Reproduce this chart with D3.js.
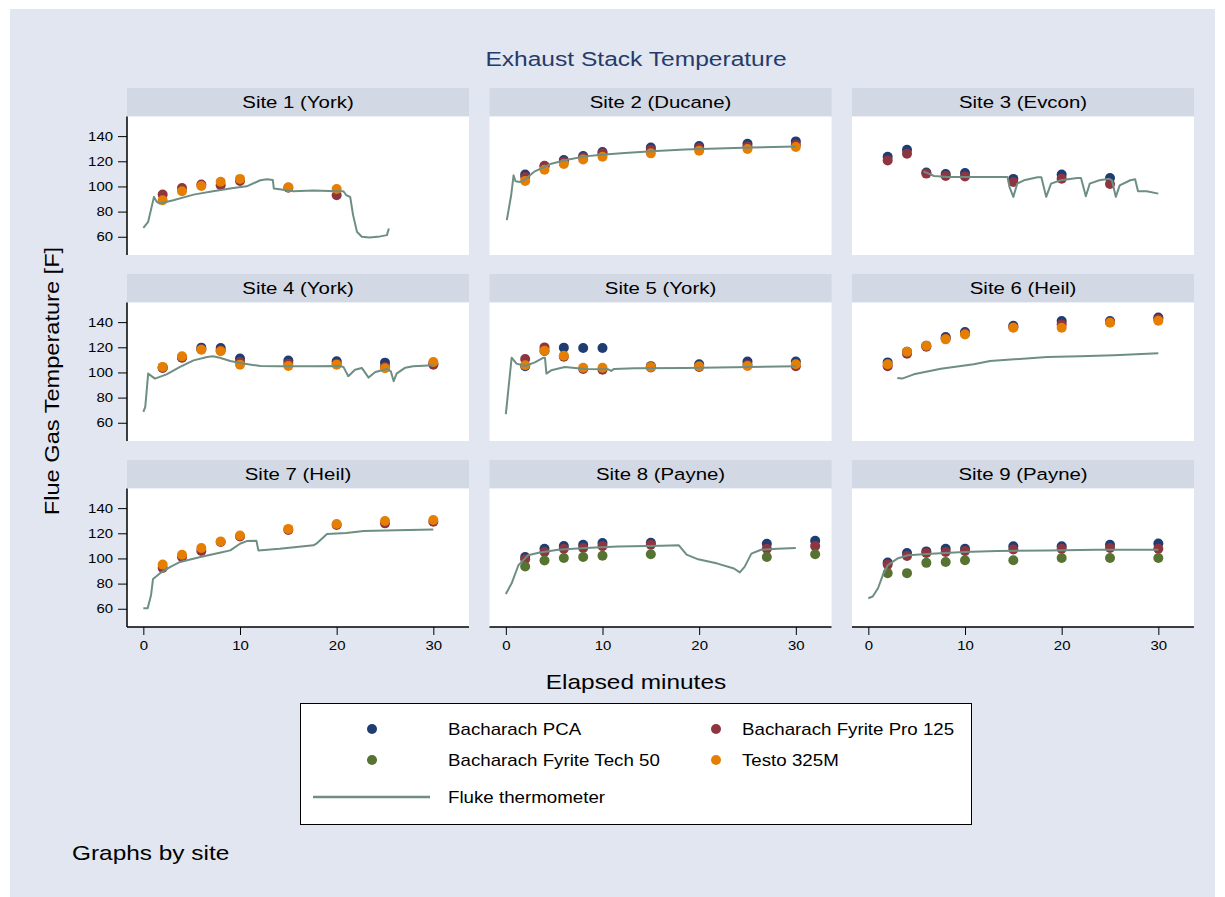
<!DOCTYPE html>
<html><head><meta charset="utf-8">
<script src="https://cdn.jsdelivr.net/npm/d3@7"></script>
<style>body{margin:0;background:#fff;} text{font-family:"Liberation Sans",Arial,sans-serif;}</style>
</head><body><svg id="c" width="1225" height="897"></svg>
<script>
const siteNames = ["Site 1 (York)","Site 2 (Ducane)","Site 3 (Evcon)","Site 4 (York)","Site 5 (York)","Site 6 (Heil)","Site 7 (Heil)","Site 8 (Payne)","Site 9 (Payne)"];
const std = [2,4,6,8,10,15,20,25,30];
const sampleMinutes = [[2,4,6,8,10,15,20], std, [2,4,6,8,10,15,20,25], std, std, std, std, [2,4,6,8,10,15,27,32], std];
const pca = [
  null,
  [109.4,116,121,124.2,127.3,131,132.1,133.9,135.8],
  [123.6,129.2,111,109.9,110.7,106,109.4,106.7],
  [104,112,119.7,119.4,111,109.4,108.8,107.8,107],
  [105,117,119.7,119.4,119.4,105,106.5,108.6,108.6],
  [108,116.5,121.3,128.1,132.1,137.1,140.8,140.8,143.7],
  null,
  [101.2,107.7,109.8,110.9,112.2,112.4,111.7,114],
  [96.7,104.3,105.6,107.7,107.7,109.6,109.6,110.9,111.9]
];
const pro125 = [
  [93.5,98.8,101.5,100.9,104.4,99,93],
  [107.5,116.5,119.7,123.1,126.3,129.2,130.5,131.8,133.1],
  [120.7,126,110.2,108.3,108,103.6,106.2,102],
  [103.6,111.7,118.5,117.5,108.3,107,107,104.4,106.2],
  [110.7,119.9,112.5,102.8,102.2,104,104.4,106,104.9],
  [104.9,114.9,120.5,127,131,136,138.2,140,142.4],
  [92.5,101.2,105.9,113,117.4,122.7,126.6,127.9,129.2],
  [99.3,105.1,107.7,108.3,109.8,110.9,107.7,109.8],
  [95.1,102,104.3,105.1,105.9,107.2,107.7,108.3,107.7]
];
const tech50 = [null,null,null,null,null,null,null,
  [93.6,98.3,100.4,101.2,102.2,103.3,101.2,103.3],
  [88.3,88.3,96.5,97.2,98.6,98.6,100.4,100.4,100.4]
];
const testo = [
  [89,96.2,100.4,103.8,106,99.3,98],
  [104.4,113.3,117.8,121.5,123.6,126.3,128.4,129.7,131.3],
  null,
  [104.4,112.8,118.1,116.8,106.2,105.1,106.2,103.3,108.3],
  [105.7,117.3,113.3,103.8,103.8,104.4,104.9,105.1,106.5],
  [106.5,116.5,121.3,126.3,130.2,135.5,135.5,139.5,141.1],
  [95.1,103,108.3,113.5,118.2,123.5,127.4,129.8,130.6],
  null, null
];
const fluke = [
  [[0,67.1],[0.5,71.9],[1.1,91.7],[1.4,87.7],[1.7,86.4],[3.1,89],[5.2,93.5],[7.2,96.2],[9.3,98.8],[10.7,100.1],[12.1,104.9],[12.8,105.7],[13.4,105.1],[13.5,98.3],[14.1,97.8],[15.5,96.2],[17.6,96.7],[20,96.2],[20.7,96.2],[21,93],[21.4,91.7],[21.7,77.2],[22.1,64],[22.6,60],[23.4,59.5],[24.5,60.3],[25.2,61.3],[25.4,66.6]],
  [[0.1,73.2],[0.55,93],[0.8,108.8],[1,104.1],[1.5,103.6],[2,105.7],[3,112],[4.7,118.1],[6.5,121.5],[8.2,123.9],[9.9,125.2],[12.3,126.5],[15.1,127.9],[18.5,129.4],[21.9,130.2],[25.4,131],[30,131.8]],
  [[5.7,112],[6.8,108.3],[8.2,107.5],[14.4,107.5],[14.6,99.6],[15,91.7],[15.4,102.2],[16.1,104.9],[17.5,107.3],[17.9,107.3],[18.4,91.7],[18.9,102.2],[19.9,104.9],[21.6,106.7],[22,106.7],[22.5,92.2],[22.9,102.2],[23.9,104.9],[24.9,106.2],[25.2,104.9],[25.6,91.7],[26,100.9],[27.1,104.9],[27.6,105.7],[27.9,96.2],[28.8,96.2],[30,94.3]],
  [[0,68.7],[0.2,72.7],[0.5,99.1],[1.2,95.1],[2.4,98.5],[3.8,104.4],[5.2,109.6],[6.6,112.3],[7.2,112.8],[7.9,111.7],[9,109.1],[10,107.5],[12.1,105.1],[14.1,104.9],[17.6,104.9],[20.3,105.1],[20.7,104.4],[21.2,97],[21.9,102.2],[22.6,103.6],[23.3,95.9],[24,100.4],[25.2,102.8],[25.6,100.9],[25.9,93],[26.2,99.1],[27.1,103.8],[27.9,104.9],[30,105.7]],
  [[0,66.9],[0.6,111.7],[1.1,107],[2,105.1],[3,108],[3.9,111.7],[4.05,111.7],[4.2,99.1],[4.7,101.7],[6.1,104.4],[8.2,102.8],[10.6,102.5],[10.9,101.2],[11.2,102.8],[13.3,103.3],[18.5,103.6],[23.6,104.1],[30,104.9]],
  [[3,95.6],[3.5,95.1],[4.7,98.5],[7.5,103],[10.9,106.5],[12.6,109.1],[15.1,110.4],[18.5,112.3],[21.9,112.8],[25.4,113.6],[30,115.2]],
  [[0,60.5],[0.45,60.5],[0.8,71],[1,83.6],[1.7,88.1],[2.8,93.3],[3.8,97.2],[5.9,101.2],[7.9,104.6],[9,106.4],[10,111.7],[10.7,113.8],[11.7,114],[11.9,106.4],[14.1,107.7],[17.6,110.4],[17.9,111.7],[19,119.5],[21,120.3],[22.8,121.9],[26.2,122.4],[30,123]],
  [[0,71.8],[0.6,80.2],[1.3,94.6],[2.3,102.5],[3.4,104.6],[5.4,106.9],[8.2,108.3],[11.6,109.5],[16.1,110.1],[17.9,110.4],[18.7,103],[19.9,99.3],[21.9,95.9],[23.6,92],[24.2,88.9],[24.7,93.3],[25.4,103.8],[26.4,106.9],[28.1,107.7],[30,108.3]],
  [[0,68.4],[0.45,69.7],[1,76.3],[1.5,86.8],[2,94.6],[3,99.9],[4.1,102.5],[6.5,103.8],[9.9,105.1],[13.3,105.9],[18.5,106.4],[23.6,107],[30,107]]
];
const yTicks = [60,80,100,120,140];
const xTicks = [0,10,20,30];
const seriesNames = ["Bacharach PCA","Bacharach Fyrite Pro 125","Bacharach Fyrite Tech 50","Testo 325M"];
const seriesData = [pca, pro125, tech50, testo];
const seriesColors = ["#1f3d70","#8f353f","#567331","#e57f04"];
const lineName = "Fluke thermometer";
const lineColor = "#6e8e84";

const svg = d3.select("#c");
svg.append("rect").attr("x",10).attr("y",9).attr("width",1205).attr("height",888).attr("fill","#e1e6f0");

// text helper: horizontally widened glyphs as in the reference
function label(parent, x, y, str, size, anchor, sx, color, rot) {
  return parent.append("text")
    .attr("transform", `translate(${x},${y})` + (rot ? ` rotate(${rot})` : "") + ` scale(${sx},1)`)
    .attr("text-anchor", anchor).attr("font-size", size).attr("fill", color || "#000").text(str);
}

label(svg, 636, 66, "Exhaust Stack Temperature", 21, "middle", 1.17, "#263b6a");

const colX = [127, 489.5, 852];
const rowY = [88, 274, 460];
const pw = 342, stripH = 28.5, ph = 138.5;
const x = d3.scaleLinear().domain([-1.69, 33.69]).range([0, pw]);
const y = d3.scaleLinear().domain([45.5, 155.6]).range([ph, 0]);

siteNames.forEach((name, i) => {
  const c = i % 3, r = Math.floor(i / 3);
  const g = svg.append("g").attr("transform", `translate(${colX[c]},${rowY[r]})`);
  g.append("rect").attr("width", pw).attr("height", stripH).attr("fill", "#d2d8e4");
  label(g, pw/2, stripH/2 + 6, name, 17, "middle", 1.2);
  const p = g.append("g").attr("transform", `translate(0,${stripH})`);
  p.append("rect").attr("width", pw).attr("height", ph).attr("fill", "#fff");
  if (c === 0) {
    const ay = p.append("g").call(d3.axisLeft(y).tickValues(yTicks).tickSize(9).tickPadding(5));
    ay.select(".domain").attr("d", `M0,0V${ph}`).attr("stroke","#000").attr("stroke-width",1.5);
    ay.selectAll(".tick line").attr("stroke","#000");
    ay.selectAll("text").attr("x",0).attr("transform","translate(-14,0) scale(1.15,1)")
      .attr("font-size",13).attr("font-family","Liberation Sans, Arial, sans-serif").attr("fill","#000");
  }
  if (r === 2) {
    const ax = p.append("g").attr("transform", `translate(0,${ph})`).call(d3.axisBottom(x).tickValues(xTicks).tickSize(8).tickPadding(6));
    ax.select(".domain").attr("d", `M0,0H${pw}`).attr("stroke","#000").attr("stroke-width",1.5);
    ax.selectAll(".tick line").attr("stroke","#000");
    ax.selectAll("text").attr("transform","scale(1.15,1)")
      .attr("font-size",13).attr("font-family","Liberation Sans, Arial, sans-serif").attr("fill","#000");
  }
  seriesData.forEach((sd, k) => {
    const vals = sd[i];
    if (!vals) return;
    const pts = vals.map((v, j) => [sampleMinutes[i][j], v]).filter(d => d[1] != null);
    p.selectAll(null).data(pts).enter().append("circle")
      .attr("cx", d => x(d[0])).attr("cy", d => y(d[1])).attr("r", 5).attr("fill", seriesColors[k]);
  });
  p.append("path").datum(fluke[i]).attr("d", d3.line().x(d => x(d[0])).y(d => y(d[1])))
    .attr("fill","none").attr("stroke", lineColor).attr("stroke-width", 2).attr("stroke-linejoin","round");
});

label(svg, 59, 381, "Flue Gas Temperature [F]", 20, "middle", 1.18, "#000", -90);
label(svg, 636, 689, "Elapsed minutes", 20, "middle", 1.22);

const lg = svg.append("g");
lg.append("rect").attr("x",300.5).attr("y",703.5).attr("width",671).attr("height",121).attr("fill","#fff").attr("stroke","#000").attr("stroke-width",1);
const lpos = [[372,729],[716,729],[372,760],[716,760]];
seriesNames.forEach((n, k) => {
  lg.append("circle").attr("cx", lpos[k][0]).attr("cy", lpos[k][1]).attr("r", 5).attr("fill", seriesColors[k]);
  label(lg, lpos[k][0] + 76 - (k%2)*50, lpos[k][1] + 6, n, 16, "start", 1.17);
});
lg.append("line").attr("x1",313).attr("x2",430).attr("y1",797).attr("y2",797).attr("stroke",lineColor).attr("stroke-width",2.5);
label(lg, 448, 803, lineName, 16, "start", 1.17);

label(svg, 72, 860, "Graphs by site", 20, "start", 1.22);
</script></body></html>
